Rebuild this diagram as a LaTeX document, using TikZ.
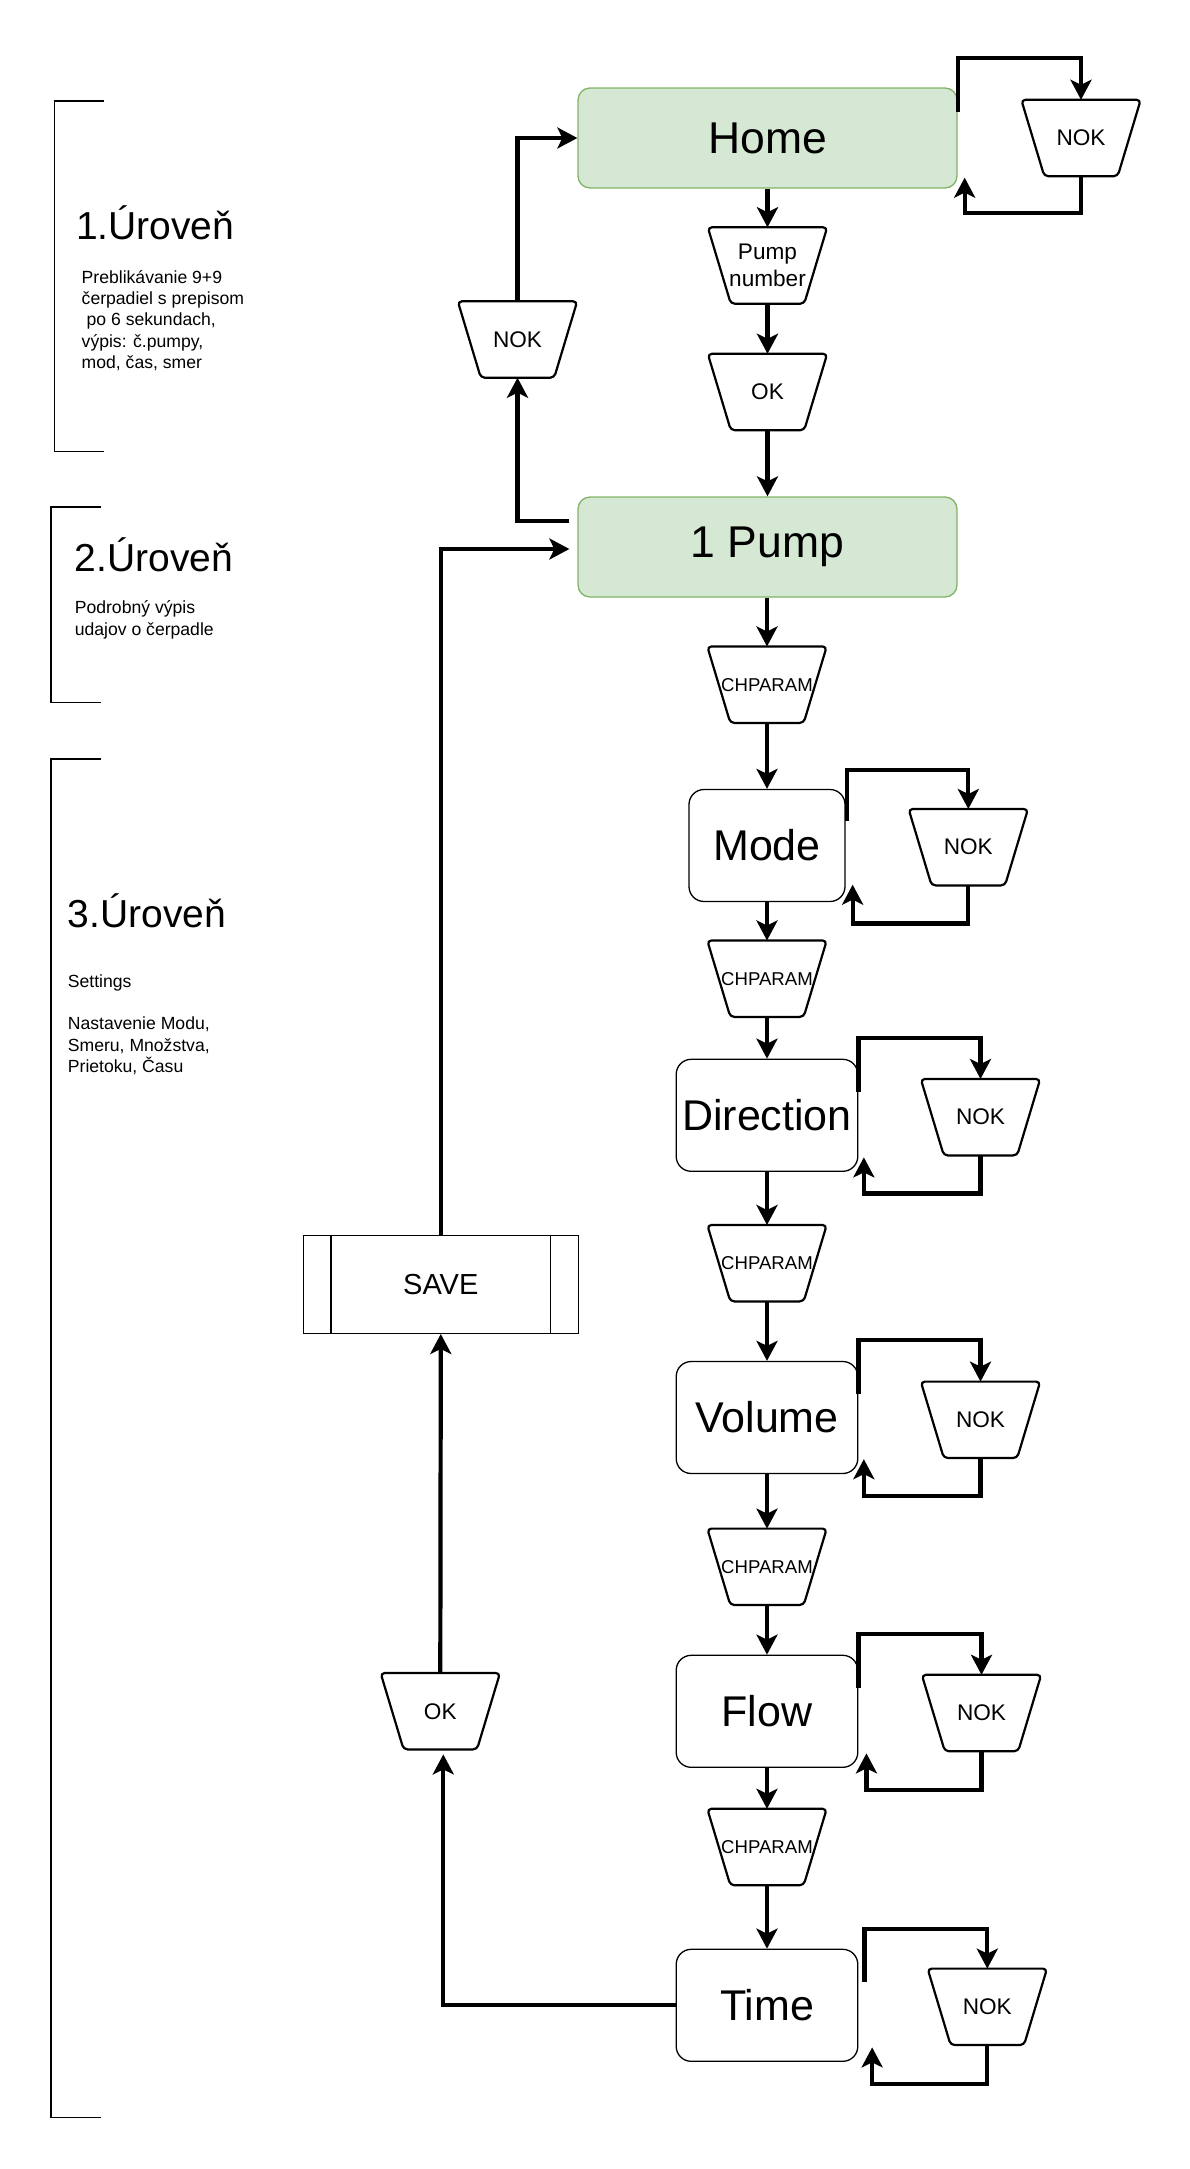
\documentclass[tikz,border=0pt]{standalone}
\usepackage{fontspec}
\setmainfont{Liberation Sans}
\usetikzlibrary{arrows.meta,calc}
\definecolor{boxgreen}{HTML}{D5E8D4}
\definecolor{boxgreenline}{HTML}{82B366}
\newcommand\mytrap[4][22.6]{%
  \node[trapn, font=\fontsize{#1}{27.3}\selectfont] (#2) at (#3) {#4};
  \draw[trapline] (#2.north west) -- (#2.north east) -- ([xshift=-23pt]#2.south east) -- ([xshift=23pt]#2.south west) -- cycle;}
\begin{document}
\begin{tikzpicture}[x=1pt,y=-1pt,
  conn/.style={line width=4.2pt},
  arr/.style={conn,-{Stealth[length=20pt,width=21pt,inset=5pt]}},
  box/.style={draw, line width=1.3pt, rounded corners=15pt, inner sep=0pt, align=center, font=\fontsize{43}{50}\selectfont},
  greenbox/.style={box, fill=boxgreen, draw=boxgreenline, rounded corners=12pt, minimum width=379pt, minimum height=100pt, font=\fontsize{44.5}{52}\selectfont},
  trapn/.style={inner sep=0pt, minimum width=119pt, minimum height=76pt, align=center},
  trapline/.style={line width=2.2pt, rounded corners=4pt, line join=round},
  brk/.style={line width=1.4pt},
  head/.style={anchor=base west, inner sep=0pt, font=\fontsize{39}{47}\selectfont},
  body/.style={anchor=base west, inner sep=0pt, font=\fontsize{17.6}{21.3}\selectfont}]
\useasboundingbox (0,0) rectangle (1189,2169);

% brackets
\draw[brk] (104,101) -- (54.3,101) -- (54.3,451.3) -- (104,451.3);
\draw[brk] (101,507) -- (51,507) -- (51,702.5) -- (101,702.5);
\draw[brk] (101,759) -- (51,759) -- (51,2117.3) -- (101,2117.3);

% level texts
\node[head] (h1) at (75.8,239.7) {1.Úroveň};
\node[body] (t11) at (81.5,283.3) {Preblikávanie 9+9};
\node[body] (t12) at (81.5,304.6) {čerpadiel s prepisom};
\node[body] (t13) at (86.5,325.9) {po 6 sekundach,};
\node[body] (t14) at (81.5,347.2) {výpis: č.pumpy,};
\node[body] (t15) at (81.5,368.5) {mod, čas, smer};

\node[head] (h2) at (74.6,571.6) {2.Úroveň};
\node[body] (t21) at (74.6,613.9) {Podrobný výpis};
\node[body] (t22) at (74.6,635.2) {udajov o čerpadle};

\node[head] (h3) at (67.7,927.3) {3.Úroveň};
\node[body] (t31) at (67.7,987.3) {Settings};
\node[body] (t32) at (67.7,1029.9) {Nastavenie Modu,};
\node[body] (t33) at (67.7,1051.2) {Smeru, Množstva,};
\node[body] (t34) at (67.7,1072.5) {Prietoku, Času};

% main boxes
\node[greenbox] (home) at (767.5,138) {Home};
\node[greenbox] (pump) at (767.5,547) {1 Pump};
\node[box, minimum width=156pt, minimum height=112pt] (mode) at (767,845.5) {Mode};
\node[box, minimum width=181.6pt, minimum height=112pt] (dir) at (767,1115.3) {Direction};
\node[box, minimum width=181.6pt, minimum height=112pt] (vol) at (767,1417.5) {Volume};
\node[box, minimum width=181.6pt, minimum height=112pt] (flow) at (767,1711.3) {Flow};
\node[box, minimum width=181.6pt, minimum height=112pt] (time) at (767,2005.3) {Time};

% SAVE
\node[draw, line width=1.3pt, inner sep=0pt, minimum width=275pt, minimum height=98pt, font=\fontsize{29}{35}\selectfont] (save) at (440.8,1284.3) {SAVE};
\draw[line width=1.3pt] ($(save.north west)+(28.3,0)$) -- ($(save.south west)+(28.3,0)$);
\draw[line width=1.3pt] ($(save.north east)+(-28.3,0)$) -- ($(save.south east)+(-28.3,0)$);

% trapezoids
\mytrap{pn}{767.5,265.5}{Pump\\number}
\mytrap{ok1}{767.5,392}{OK}
\mytrap[18.6]{ch1}{767,684.7}{CHPARAM}
\mytrap[18.6]{ch2}{767,978.7}{CHPARAM}
\mytrap[18.6]{ch3}{767,1263.2}{CHPARAM}
\mytrap[18.6]{ch4}{767,1566.8}{CHPARAM}
\mytrap[18.6]{ch5}{767,1847}{CHPARAM}
\mytrap{nok0}{1081,138}{NOK}
\mytrap{nok1}{968.3,847.2}{NOK}
\mytrap{nok2}{980.5,1117.2}{NOK}
\mytrap{nok3}{980.5,1419.8}{NOK}
\mytrap{nok4}{981.5,1713}{NOK}
\mytrap{nok5}{987.3,2006.8}{NOK}
\mytrap{lnok}{517.5,339.5}{NOK}
\mytrap{lok}{440.3,1711.2}{OK}

% main chain
\draw[arr] (home.south) -- (pn.north);
\draw[arr] (pn.south) -- (ok1.north);
\draw[arr] (ok1.south) -- (pump.north);
\draw[arr] (pump.south -| ch1.north) -- (ch1.north);
\draw[arr] (ch1.south) -- (mode.north);
\draw[arr] (mode.south) -- (ch2.north);
\draw[arr] (ch2.south) -- (dir.north);
\draw[arr] (dir.south) -- (ch3.north);
\draw[arr] (ch3.south) -- (vol.north);
\draw[arr] (vol.south) -- (ch4.north);
\draw[arr] (ch4.south) -- (flow.north);
\draw[arr] (flow.south) -- (ch5.north);
\draw[arr] (ch5.south) -- (time.north);

% NOK loops
\draw[arr] ($(home.north east)+(0,25)$) -- ++(0,-54) -| (nok0.north);
\draw[arr] (nok0.south) -- ++(0,37) -| ($(home.south east)+(7,-11)$);
\draw[arr] ($(mode.north east)+(1,32)$) -- ++(0,-51) -| (nok1.north);
\draw[arr] (nok1.south) -- ++(0,38) -| ($(mode.south east)+(7,-17.5)$);
\draw[arr] ($(dir.north east)+(0,33.4)$) -- ++(0,-54.4) -| (nok2.north);
\draw[arr] (nok2.south) -- ++(0,38) -| ($(dir.south east)+(5.4,-14.6)$);
\draw[arr] ($(vol.north east)+(0,33.3)$) -- ++(0,-54) -| (nok3.north);
\draw[arr] (nok3.south) -- ++(0,38) -| ($(vol.south east)+(5.4,-15)$);
\draw[arr] ($(flow.north east)+(0,33.7)$) -- ++(0,-54) -| (nok4.north);
\draw[arr] (nok4.south) -- ++(0,39) -| ($(flow.south east)+(8,-14.6)$);
\draw[arr] ($(time.north east)+(6,33.4)$) -- ++(0,-53.4) -| (nok5.north);
\draw[arr] (nok5.south) -- ++(0,39) -| ($(time.south east)+(13.7,-14.6)$);

% left side
\draw[arr] (lnok.north) |- (home.west);
\draw[arr] ($(pump.west)+(-8,-26)$) -| (lnok.south);
\draw[arr] (save.north) |- ($(pump.west)+(-8,2)$);
\draw[arr] (lok.north) -- (save.south);
\draw[arr] (time.west) -| ($(lok.south)+(3,5)$);
\end{tikzpicture}
\end{document}
